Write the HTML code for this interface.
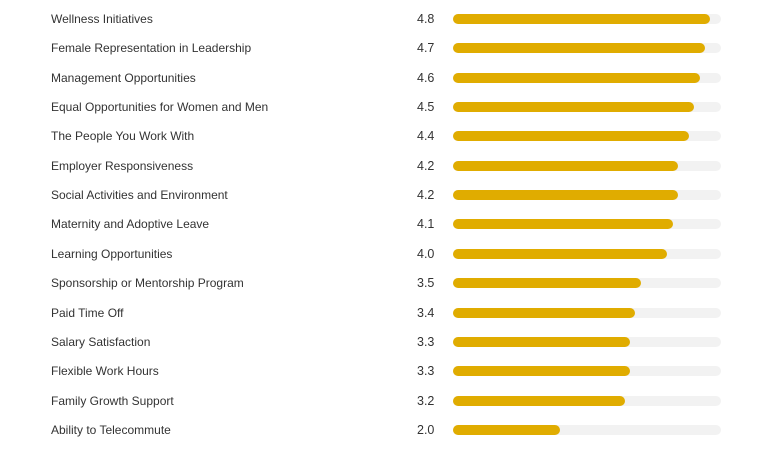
<!DOCTYPE html>
<html><head><style>
body{margin:0;background:#fff;width:780px;height:457px;overflow:hidden;font-family:"Liberation Sans",sans-serif;}
.r{position:absolute;left:0;width:780px;height:20px;}
.l{position:absolute;left:51px;top:3px;font-size:12px;color:#333;}
.v{position:absolute;left:417px;top:3px;font-size:12.5px;color:#333;}
.t{position:absolute;left:453px;top:5px;width:268px;height:10px;border-radius:5px;background:#f2f2f2;}
.b{height:10px;border-radius:5px;background:#e0ac00;}
</style></head><body>
<script>
var d=[["Wellness Initiatives",4.8],["Female Representation in Leadership",4.7],["Management Opportunities",4.6],["Equal Opportunities for Women and Men",4.5],["The People You Work With",4.4],["Employer Responsiveness",4.2],["Social Activities and Environment",4.2],["Maternity and Adoptive Leave",4.1],["Learning Opportunities",4.0],["Sponsorship or Mentorship Program",3.5],["Paid Time Off",3.4],["Salary Satisfaction",3.3],["Flexible Work Hours",3.3],["Family Growth Support",3.2],["Ability to Telecommute",2.0]];
d.forEach(function(x,i){var y=9+i*29.35;document.write('<div class="r" style="top:'+y.toFixed(2)+'px"><div class="l">'+x[0]+'</div><div class="v">'+x[1].toFixed(1)+'</div><div class="t"><div class="b" style="width:'+(x[1]/5*268).toFixed(1)+'px"></div></div></div>');});
</script>
</body></html>
